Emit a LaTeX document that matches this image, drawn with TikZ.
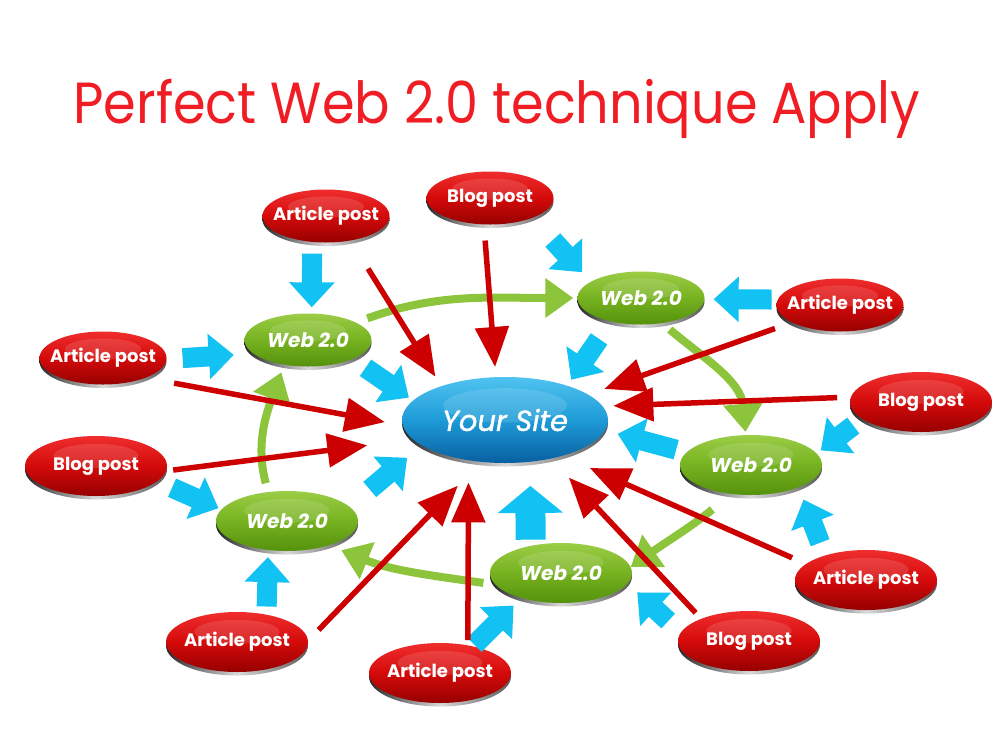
\documentclass[tikz,border=0pt]{standalone}
\usepackage{fontspec}
\setmainfont{Poppins}
\newfontfamily\titlefont[FakeStretch=0.905]{Poppins}
\newfontfamily\sitefont[FakeBold=1.2]{Poppins}
\usetikzlibrary{shapes.geometric, arrows.meta, calc}

\definecolor{titlered}{RGB}{240,30,36}
\definecolor{arrowred}{RGB}{204,0,0}
\definecolor{arrowblue}{RGB}{18,194,242}
\definecolor{arrowgreen}{RGB}{140,196,60}
\definecolor{posttop}{RGB}{240,45,45}
\definecolor{postmid}{RGB}{212,10,10}
\definecolor{postbot}{RGB}{150,0,0}
\definecolor{webtop}{RGB}{155,205,70}
\definecolor{webmid}{RGB}{118,178,32}
\definecolor{webbot}{RGB}{85,145,12}
\definecolor{sitetop}{RGB}{80,195,240}
\definecolor{sitemid}{RGB}{30,155,215}
\definecolor{sitebot}{RGB}{8,95,160}

\newcommand{\lbl}[1]{\makebox[0pt]{#1}}

\tikzset{
  bubble/.style={ellipse, inner sep=0pt, text=white,
    preaction={left color=black!85, right color=black!65, middle color=white!85!black,
      transform canvas={yshift=-3.5pt}},
    path picture={\fill[white, opacity=.13]
      ($(path picture bounding box.north)!.33!(path picture bounding box.south)$)
      ellipse [x radius=.3*\pgfkeysvalueof{/pgf/minimum width},
               y radius=.2*\pgfkeysvalueof{/pgf/minimum height}];}},
  post/.style={bubble, minimum width=142pt, minimum height=60pt,
    top color=posttop, bottom color=postbot, middle color=postmid,
    font=\bfseries\fontsize{18}{21}\selectfont},
  web/.style={bubble, minimum width=142pt, minimum height=60pt,
    top color=webtop, bottom color=webbot, middle color=webmid,
    font=\bfseries\itshape\fontsize{20}{23}\selectfont},
  small/.style={minimum width=127pt, minimum height=53pt},
  site/.style={bubble, minimum width=206pt, minimum height=86pt,
    top color=sitetop, bottom color=sitebot, middle color=sitemid,
    font=\sitefont\itshape\fontsize{29}{32}\selectfont},
  redarrow/.style={color=arrowred, line width=5.5pt, -{Triangle[length=40pt, width=33pt]}},
  bluearrow/.style={color=arrowblue, line width=20pt, -{Triangle[length=25pt, width=44pt]}},
  bigarrow/.style={color=arrowblue, line width=30pt, -{Triangle[length=27pt, width=64pt]}},
  greenarrow/.style={color=arrowgreen, line width=8pt, -{Triangle[length=28pt, width=38pt]}},
}

\begin{document}
\begin{tikzpicture}[x=1pt, y=-1pt]
\fill[white] (0,0) rectangle (1000,750);
\useasboundingbox (0,0) rectangle (1000,750);
% title
\node[font=\titlefont\fontsize{58}{62}\selectfont, text=titlered, anchor=base] (title) at (497,123) {Perfect Web 2.0 technique Apply};
% centre
\node[site] (site) at (505,420) {\lbl{Your Site}};
% web 2.0
\node[web, small] (w1) at (308,340) {\lbl{Web 2.0}};
\node[web, small] (w2) at (641,298) {\lbl{Web 2.0}};
\node[web] (w3) at (751,465) {\lbl{Web 2.0}};
\node[web] (w4) at (561,573) {\lbl{Web 2.0}};
\node[web] (w5) at (287,521) {\lbl{Web 2.0}};
% posts
\node[post, small] (a1) at (326,216) {\lbl{Article post}};
\node[post, small] (b1) at (490,198) {\lbl{Blog post}};
\node[post, small] (a2) at (840,305) {\lbl{Article post}};
\node[post] (b2) at (921,402) {\lbl{Blog post}};
\node[post] (a3) at (866,580) {\lbl{Article post}};
\node[post] (b3) at (749,641) {\lbl{Blog post}};
\node[post] (a4) at (440,673) {\lbl{Article post}};
\node[post] (a5) at (237,642) {\lbl{Article post}};
\node[post] (b4) at (96,466) {\lbl{Blog post}};
\node[post, small] (a6) at (103,358) {\lbl{Article post}};
% web ring
\draw[greenarrow, shorten <=12pt, shorten >=4pt] (w1.20) to[out=20, in=180] (w2.west);
\draw[greenarrow, shorten <=10pt, shorten >=3pt] (w2.-50) to[out=-40, in=95] (w3.100);
\draw[greenarrow, shorten <=24pt] (w3.-125) to[out=-140, in=35] (w4.5);
\draw[greenarrow, shorten <=12pt, shorten >=13pt] (w4.190) to[out=172, in=-22] (w5.-30);
\draw[greenarrow, shorten <=9pt, shorten >=8pt] (w5.123) to[out=105, in=-110] (w1.-134);
% blue
\draw[bluearrow, shorten <=11.6pt, shorten >=6pt] (a1.-118.9) -- (w1.82.1);
\draw[bluearrow, shorten <=16pt, shorten >=19.5pt] (a6.-1) -- (w1.-166);
\draw[bluearrow, shorten <=16pt, shorten >=3pt] (b4.-14.2) -- (w5.170.7);
\draw[bluearrow, shorten <=8pt, shorten >=7pt] (a5.43.3) -- (w5.-123.3);
\draw[bluearrow, shorten <=2pt, shorten >=10.6pt] (a4.39.2) -- (w4.-148.8);
\draw[bigarrow, shorten <=6pt, shorten >=24pt] (w4.138.9) -- (site.-59.1);
\draw[bluearrow, shorten <=17pt, shorten >=13pt] (b3.173.6) -- (w4.-9.8);
\draw[bluearrow, shorten <=13.5pt, shorten >=13pt] (a3.149.2) -- (w3.-25.5);
\draw[bluearrow, shorten <=11pt, shorten >=5pt] (b2.-164.5) -- (w3.10.5);
\draw[bluearrow, shorten <=6pt, shorten >=9pt] (a2.175.4) -- (w2.-1);
\draw[bluearrow, shorten <=30pt, shorten >=12.7pt] (b1.-25.9) -- (w2.162.7);
\draw[bluearrow, shorten <=21pt, shorten >=7pt] (w2.-142.6) -- (site.29.6);
\draw[bluearrow, shorten <=10.5pt, shorten >=13pt] (w3.169.2) -- (site.-6.5);
\draw[bluearrow, shorten <=15.5pt, shorten >=5pt] (w1.-23.6) -- (site.168);
\draw[bluearrow, shorten <=26.5pt, shorten >=19pt] (w5.13.8) -- (site.-163);
% red
\draw[redarrow, shorten <=33pt, shorten >=11pt] (a1.-45.6) -- (site.152.3);
\draw[redarrow, shorten <=16pt, shorten >=10pt] (b1.-103.6) -- (site.102.1);
\draw[redarrow, shorten <=18pt, shorten >=17pt] (a2.-160.5) -- (site.17.8);
\draw[redarrow, shorten <=13.6pt, shorten >=10.5pt] (b2.176.4) -- (site.8.7);
\draw[redarrow, shorten <=15pt, shorten >=30pt] (a3.165.2) -- (site.-32.9);
\draw[redarrow, shorten <=8pt, shorten >=26pt] (b3.155.5) -- (site.-40.8);
\draw[redarrow, shorten <=5pt, shorten >=22pt] (a4.45.7) -- (site.-132.6);
\draw[redarrow, shorten <=15pt, shorten >=33pt] (a5.1.2) -- (site.-120.2);
\draw[redarrow, shorten <=7pt, shorten >=46pt] (b4.-4.1) -- (site.-168.3);
\draw[redarrow, shorten <=29pt, shorten >=18pt] (a6.-25.9) -- (site.-177.1);
\end{tikzpicture}
\end{document}
